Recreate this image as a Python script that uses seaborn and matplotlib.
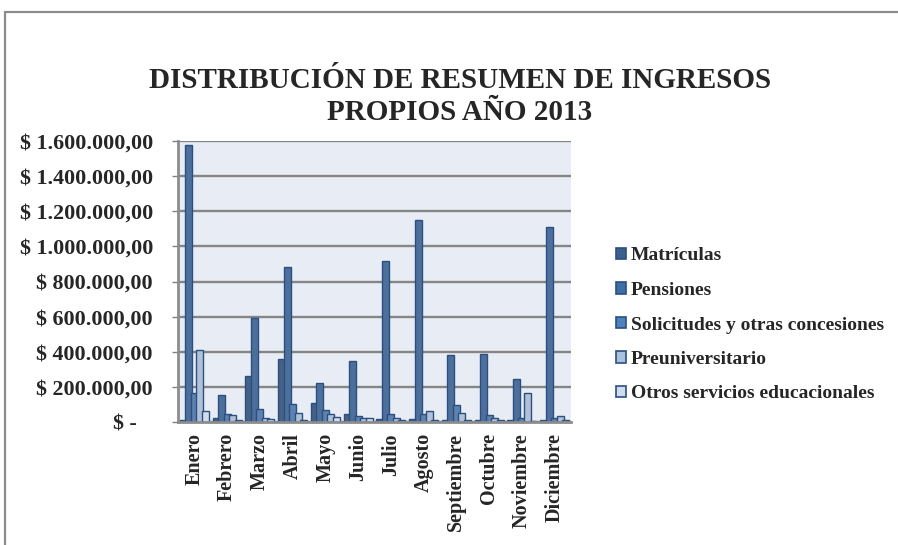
import matplotlib
matplotlib.use("Agg")
import matplotlib.pyplot as plt
from matplotlib.patches import Patch
from matplotlib.ticker import FuncFormatter, MultipleLocator
from matplotlib.lines import Line2D
import seaborn as sns
import pandas as pd

# Monthly own-income summary, 2013 (pesos)
meses = ["Enero", "Febrero", "Marzo", "Abril", "Mayo", "Junio", "Julio",
         "Agosto", "Septiembre", "Octubre", "Noviembre", "Diciembre"]
series = ["Matrículas", "Pensiones", "Solicitudes y otras concesiones",
          "Preuniversitario", "Otros servicios educacionales"]

matriculas = [10000, 25000, 260000, 360000, 110000, 45000, 15000, 15000, 10000, 10000, 10000, 10000]
pensiones = [1580000, 155000, 590000, 880000, 220000, 345000, 915000, 1150000, 380000, 390000, 245000, 1110000]
solicitudes = [165000, 45000, 75000, 105000, 70000, 35000, 45000, 45000, 95000, 40000, 25000, 20000]
preuniversitario = [410000, 40000, 25000, 50000, 45000, 25000, 25000, 60000, 50000, 25000, 165000, 35000]
otros = [65000, 10000, 15000, 10000, 30000, 20000, 10000, 10000, 10000, 10000, 5000, 10000]

colores = ["#3b5f8f", "#3f6ea8", "#4f81bd", "#a9c0df", "#cfdcee"]
borde = "#2b4f80"

valores = [matriculas, pensiones, solicitudes, preuniversitario, otros]
df = pd.DataFrame({
    "Mes": [m for _ in series for m in meses],
    "Serie": [s for s in series for _ in meses],
    "Monto": [v for serie in valores for v in serie],
})

sns.set_theme(style="white")
plt.rcParams["font.family"] = ["Liberation Serif", "DejaVu Serif"]
plt.rcParams["font.weight"] = "bold"

fig = plt.figure(figsize=(8.98, 5.45), dpi=100)
ax = fig.add_axes([178 / 898, 1 - 422 / 545, (571 - 178) / 898, (422 - 141) / 545])

sns.barplot(data=df, x="Mes", y="Monto", hue="Serie", order=meses,
            hue_order=series, palette=colores, width=0.84,
            edgecolor=borde, linewidth=1.0, legend=False, ax=ax)

# widen each column a little around its centre so neighbours touch
for bar in ax.patches:
    w = bar.get_width()
    bar.set_x(bar.get_x() - 0.15 * w)
    bar.set_width(1.3 * w)

ax.set_facecolor("#e7ecf5")
ax.set_ylim(0, 1600000)
ax.set_xlim(-0.5, len(meses) - 0.5)
ax.yaxis.set_major_locator(MultipleLocator(200000))
ax.grid(axis="y", color="#858585", linewidth=1.7)
ax.set_axisbelow(True)


def pesos(v, _pos):
    if v == 0:
        return "$ -   "
    s = f"{v:,.2f}".replace(",", "X").replace(".", ",").replace("X", ".")
    return f"$ {s}"


ax.yaxis.set_major_formatter(FuncFormatter(pesos))
ax.set_xlabel("")
ax.set_ylabel("")
ax.tick_params(axis="y", which="major", length=4, width=1, color="#808080",
               labelsize=15.8, pad=14, left=True)
ax.tick_params(axis="x", length=0, labelsize=14.5, pad=8)
for lbl in ax.get_xticklabels():
    lbl.set_rotation(90)
    lbl.set_fontweight("bold")
for lbl in ax.get_yticklabels():
    lbl.set_fontweight("bold")

for side in ["top", "right"]:
    ax.spines[side].set_visible(False)
ax.spines["left"].set_color("#8c8c8c")
ax.spines["left"].set_linewidth(2)
ax.spines["bottom"].set_color("#8c8c8c")
ax.spines["bottom"].set_linewidth(2)

fig.text(0.512, 1 - 80 / 545, "DISTRIBUCIÓN DE RESUMEN DE INGRESOS",
         ha="center", va="center", fontsize=21, fontweight="bold")
fig.text(0.512, 1 - 113 / 545, "PROPIOS AÑO 2013",
         ha="center", va="center", fontsize=21, fontweight="bold")

handles = [Patch(facecolor=c, edgecolor=borde, linewidth=1.2) for c in colores]
fig.legend(handles, series, loc="center left",
           bbox_to_anchor=(598 / 898, 1 - 325 / 545), frameon=False,
           prop={"size": 14, "weight": "bold"}, handlelength=0.55,
           handleheight=0.55, handletextpad=0.25, labelspacing=0.9)

# outer chart frame
fig.add_artist(Line2D([5 / 898, 5 / 898], [0, 1 - 12 / 545],
                      transform=fig.transFigure, color="#8c8c8c", linewidth=1.6))
fig.add_artist(Line2D([5 / 898, 1], [1 - 12 / 545, 1 - 12 / 545],
                      transform=fig.transFigure, color="#8c8c8c", linewidth=1.6))

fig.savefig("out.png", dpi=100, facecolor="white")
